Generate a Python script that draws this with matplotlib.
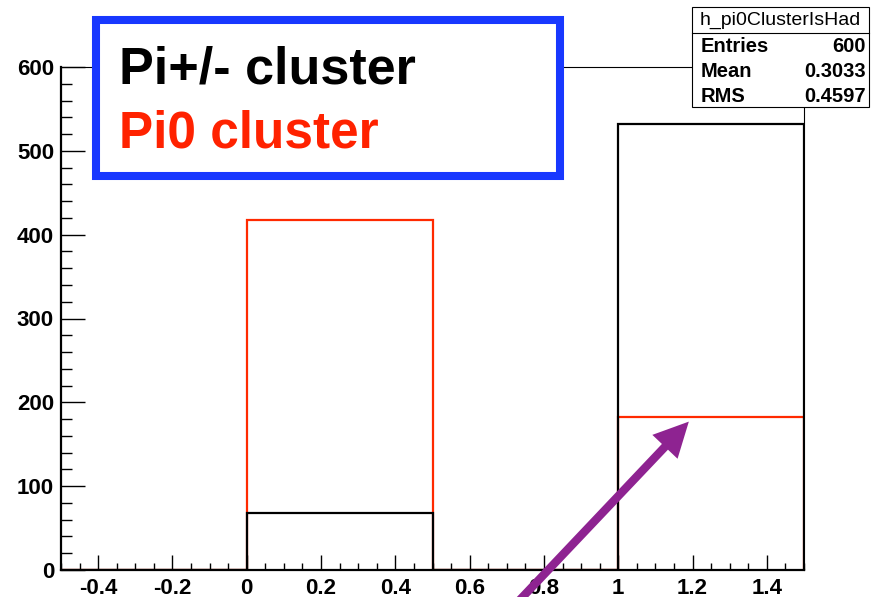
import matplotlib
matplotlib.use("Agg")
import matplotlib.pyplot as plt
from matplotlib.patches import Rectangle
from matplotlib.ticker import MultipleLocator
from matplotlib.lines import Line2D

plt.rcParams['font.family'] = ['Liberation Sans', 'DejaVu Sans']

# histogram contents
bin_edges = [-0.5, 0.0, 0.5, 1.0, 1.5]
pipm_counts = [0, 68, 0, 532]   # Pi+/- clusters
pi0_counts = [0, 418, 0, 182]   # Pi0 clusters

stats_title = "h_pi0ClusterIsHad"
stats_names = ["Entries", "Mean", "RMS"]
stats_values = ["600", "0.3033", "0.4597"]

W, H = 881, 597
fig = plt.figure(figsize=(W / 100, H / 100), dpi=100)
ax = fig.add_axes([61 / W, 1 - 570 / H, (804 - 61) / W, (570 - 67) / H])

ax.stairs(pi0_counts, bin_edges, color='#ff2a00', lw=1.6, baseline=0)
ax.stairs(pipm_counts, bin_edges, color='black', lw=1.6, baseline=0)

ax.set_xlim(-0.5, 1.5)
ax.set_ylim(0, 600)
ax.xaxis.set_major_locator(MultipleLocator(0.2))
ax.xaxis.set_minor_locator(MultipleLocator(0.05))
ax.yaxis.set_major_locator(MultipleLocator(100))
ax.yaxis.set_minor_locator(MultipleLocator(20))
ax.set_xticks([-0.4, -0.2, 0, 0.2, 0.4, 0.6, 0.8, 1, 1.2, 1.4])
ax.set_xticklabels(['-0.4', '-0.2', '0', '0.2', '0.4', '0.6', '0.8', '1', '1.2', '1.4'])

ax.tick_params(which='both', direction='in', top=False, right=False, width=1)
ax.tick_params(axis='x', which='major', length=11, pad=6)
ax.tick_params(axis='x', which='minor', length=5)
ax.tick_params(axis='y', which='major', length=17, pad=5)
ax.tick_params(axis='y', which='minor', length=8)
for lab in ax.get_xticklabels() + ax.get_yticklabels():
    lab.set_fontsize(16)
    lab.set_fontweight('bold')

for side in ['left', 'bottom']:
    ax.spines[side].set_linewidth(1.6)
for side in ['top', 'right']:
    ax.spines[side].set_linewidth(0.8)

# purple pointer to the Pi0 content of the "1" bin
ax.annotate('', xy=(1.19, 177), xycoords='data',
            xytext=(515, -8), textcoords='figure pixels',
            annotation_clip=False,
            arrowprops=dict(arrowstyle='simple,head_length=25,head_width=25,tail_width=6',
                            mutation_scale=1, color='#8e2391', lw=0,
                            shrinkA=0, shrinkB=0))

# legend-like box
fig.patches.append(Rectangle((96 / W, 1 - 176 / H), (560 - 96) / W, (176 - 20) / H,
                             transform=fig.transFigure, facecolor='white',
                             edgecolor='#1838ff', lw=5.8, zorder=5))
fig.text(119 / W, 1 - 83 / H, "Pi+/- cluster", color='black', fontsize=37.5,
         fontweight='bold', ha='left', va='baseline', zorder=6)
fig.text(119 / W, 1 - 147 / H, "Pi0 cluster", color='#ff2200', fontsize=37,
         fontweight='bold', ha='left', va='baseline', zorder=6)

# statistics box
bx0, bx1, by0, by1 = 692, 869, 7, 107
fig.patches.append(Rectangle((bx0 / W, 1 - by1 / H), (bx1 - bx0) / W, (by1 - by0) / H,
                             transform=fig.transFigure, facecolor='white',
                             edgecolor='black', lw=0.8, zorder=5))
fig.lines.append(Line2D([bx0 / W, bx1 / W], [1 - 33 / H, 1 - 33 / H],
                        transform=fig.transFigure, color='black', lw=0.8, zorder=6))
fig.text((bx0 + bx1) / 2 / W, 1 - 20 / H, stats_title, fontsize=14,
         ha='center', va='center', zorder=6)
for i, (name, val) in enumerate(zip(stats_names, stats_values)):
    yy = 1 - (46 + 25.5 * i) / H
    fig.text(701 / W, yy, name, fontsize=14.5, fontweight='bold',
             ha='left', va='center', zorder=6)
    fig.text(866 / W, yy, val, fontsize=14.5, fontweight='bold',
             ha='right', va='center', zorder=6)

plt.savefig('out.png', dpi=100)
